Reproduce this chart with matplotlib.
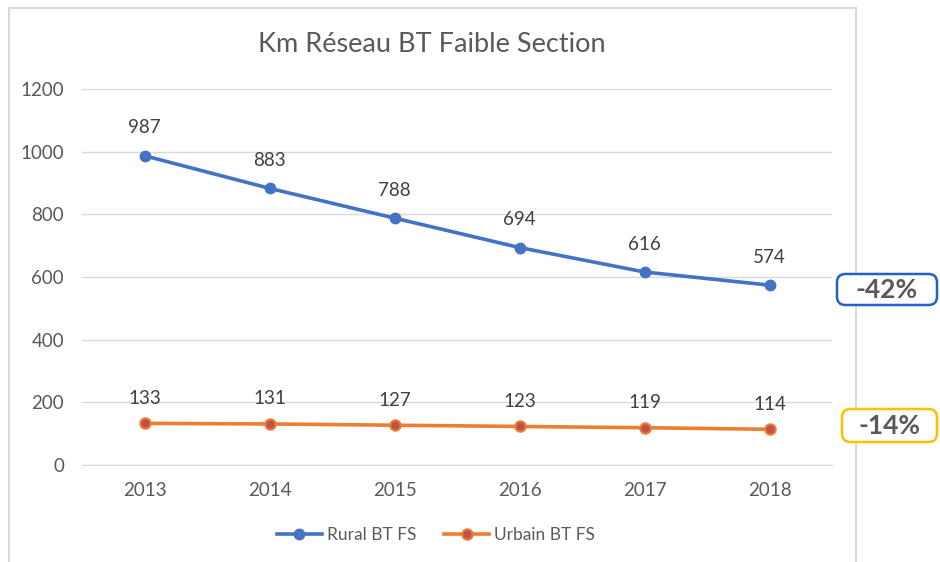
import matplotlib
matplotlib.use('Agg')
import matplotlib.pyplot as plt
from matplotlib.patches import Rectangle, FancyBboxPatch

years = ['2013', '2014', '2015', '2016', '2017', '2018']
rural = [987, 883, 788, 694, 616, 574]
urbain = [133, 131, 127, 123, 119, 114]
yticks = [0, 200, 400, 600, 800, 1000, 1200]

plt.rcParams['font.family'] = ['Lato', 'DejaVu Sans']
grey = '#595959'

fig = plt.figure(figsize=(9.4, 5.62), dpi=100)
ax = fig.add_axes([82/940, 1-465/562, 750/940, 376/562])

x = range(len(years))
ax.plot(x, rural, color='#4472C4', lw=2.6, marker='o', ms=7.5,
        mfc='#4472C4', mec='#4472C4', label='Rural BT FS', zorder=3)
ax.plot(x, urbain, color='#ED7D31', lw=2.6, marker='o', ms=7.5,
        mfc='#C0504D', mec='#ED7D31', mew=1.5, label='Urbain BT FS', zorder=3)

for i in x:
    ax.annotate(str(rural[i]), (i, rural[i]), xytext=(0, 14), textcoords='offset points',
                ha='center', va='bottom', fontsize=13.5, color='#404040')
    ax.annotate(str(urbain[i]), (i, urbain[i]), xytext=(0, 12), textcoords='offset points',
                ha='center', va='bottom', fontsize=13.5, color='#404040')

ax.set_xlim(-0.5, len(years) - 0.5)
ax.set_ylim(0, 1200)
ax.set_yticks(yticks)
ax.set_xticks(list(x))
ax.set_xticklabels(years)
ax.grid(axis='y', color='#D9D9D9', lw=1)
ax.set_axisbelow(True)
for s in ['top', 'right', 'left']:
    ax.spines[s].set_visible(False)
ax.spines['bottom'].set_color('#D9D9D9')
ax.tick_params(length=0, labelsize=13.5, labelcolor=grey)
ax.tick_params(axis='y', pad=13)
ax.tick_params(axis='x', pad=12)

fig.text(432/940, 1-45/562, 'Km Réseau BT Faible Section', ha='center', va='center',
         fontsize=19.5, color=grey)

ax.legend(loc='center', bbox_to_anchor=(436/940, 1-535/562), bbox_transform=fig.transFigure,
          ncol=2, frameon=False, fontsize=12.5, labelcolor=grey, handlelength=2.6,
          columnspacing=1.6, handletextpad=0.3)

# chart frame
fig.patches.append(Rectangle((9/940, -0.05), 847/940, 1.05 - 8/562, transform=fig.transFigure,
                             fill=False, ec='#D9D9D9', lw=1.5))

# change boxes
for (x0, y0, x1, y1), txt, ec in [((837, 274, 937, 305), '-42%', '#1F63C6'),
                                   ((842, 409, 937, 442), '-14%', '#FFC000')]:
    fig.patches.append(FancyBboxPatch((x0/940, 1-y1/562), (x1-x0)/940, (y1-y0)/562,
                                      boxstyle='round,pad=0,rounding_size=0.009',
                                      transform=fig.transFigure, fc='white', ec=ec, lw=1.8,
                                      mutation_aspect=940/562))
    fig.text((x0+x1)/2/940, 1-(y0+y1)/2/562, txt, ha='center', va='center', fontsize=19,
             fontweight='bold', color=grey)

fig.savefig('out.png', dpi=100)
